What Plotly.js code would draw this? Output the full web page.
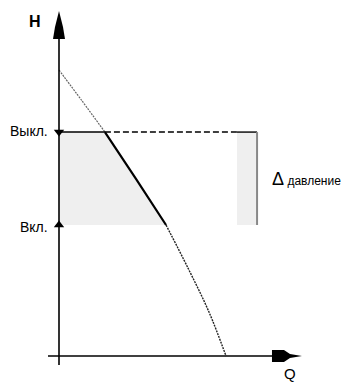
<!DOCTYPE html>
<html><head><meta charset="utf-8">
<script src="https://cdn.plot.ly/plotly-3.0.1.min.js"></script>
<style>html,body{margin:0;padding:0;background:#fff}</style>
</head><body>
<div id="chart" style="width:355px;height:382px"></div>
<script>
// Pump curve (arbitrary units)
const Q_curve = [0, 1.38, 2.75, 4.61, 6.41, 7.72, 8.98, 10.0];
const H_curve = [10.0, 8.92, 7.83, 6.19, 4.58, 3.08, 1.54, 0];
const H_off = 7.83;   // Выкл.
const H_on = 4.58;    // Вкл.
const Q_band = [10.66, 11.86]; // Δ давление band
const labels = {off: 'Выкл.', on: 'Вкл.', H: 'H', Q: 'Q', delta: 'Δ', dp: 'давление'};

// axis extents
const xRange = [-3.533, 17.725];
const yRange = [-0.909, 12.448];
const Q_tip = 14.55, H_tip = 12.06;

const upperQ = [], upperH = [], midQ = [], midH = [], lowQ = [], lowH = [];
Q_curve.forEach((q, i) => {
  const h = H_curve[i];
  if (h >= H_off) { upperQ.push(q); upperH.push(h); }
  if (h <= H_off && h >= H_on) { midQ.push(q); midH.push(h); }
  if (h <= H_on) { lowQ.push(q); lowH.push(h); }
});

const sp = {shape: 'spline', smoothing: 1};
const traces = [
  // shaded area between axis and curve, between on/off
  {x: midQ, y: midH, mode: 'lines', fill: 'tozerox',
   fillcolor: '#efefef', line: Object.assign({width: 0}, sp), hoverinfo: 'skip'},
  // band rect
  {x: [Q_band[0], Q_band[1], Q_band[1], Q_band[0]], y: [H_off, H_off, H_on, H_on], mode: 'lines', fill: 'toself',
   fillcolor: '#efefef', line: {width: 0}, hoverinfo: 'skip'},
  // curve parts
  {x: upperQ, y: upperH, mode: 'lines', line: Object.assign({color: '#666', width: 1.2, dash: '2px,1px'}, sp)},
  {x: midQ, y: midH, mode: 'lines', line: Object.assign({color: '#000', width: 2.2}, sp)},
  {x: lowQ, y: lowH, mode: 'lines', line: Object.assign({color: '#222', width: 1.4, dash: '2px,1px'}, sp)},
  // off line solid then dashed
  {x: [0, midQ[0]], y: [H_off, H_off], mode: 'lines', line: {color: '#000', width: 1.6}},
  {x: [midQ[0], Q_band[0]], y: [H_off, H_off], mode: 'lines', line: {color: '#000', width: 1.4, dash: '6px,3px'}},
  {x: [Q_band[0], Q_band[1]], y: [H_off, H_off], mode: 'lines', line: {color: '#000', width: 1.4}},
  {x: [Q_band[1], Q_band[1]], y: [H_off, H_on], mode: 'lines', line: {color: '#888', width: 2}},
  // markers on axis
  {x: [0], y: [H_off], mode: 'markers', marker: {symbol: 'triangle-down', size: 9, color: '#000'}},
  {x: [0], y: [H_on], mode: 'markers', marker: {symbol: 'triangle-up', size: 9, color: '#000'}}
];

const layout = {
  width: 355, height: 382,
  margin: {l: 0, r: 0, t: 0, b: 0},
  paper_bgcolor: '#fff', plot_bgcolor: '#fff',
  showlegend: false,
  xaxis: {range: xRange, visible: false, fixedrange: true},
  yaxis: {range: yRange, visible: false, fixedrange: true},
  shapes: [
    {type: 'line', xref: 'x', yref: 'y', x0: 0, x1: 0, y0: -0.315, y1: H_tip - 0.5, line: {color: '#000', width: 1.6}, layer: 'above'},
    {type: 'line', xref: 'x', yref: 'y', x0: -0.66, x1: Q_tip - 0.5, y0: 0, y1: 0, line: {color: '#000', width: 1.6}, layer: 'above'},
    {type: 'path', xref: 'x', yref: 'y', xsizemode: 'pixel', ysizemode: 'pixel', xanchor: 0, yanchor: H_tip,
     path: 'M0,0 L-2,-8 L-4,-16 L-6,-28 L6,-28 L4,-16 L2,-8 Z', fillcolor: '#000', line: {width: 0}, layer: 'above'},
    {type: 'path', xref: 'x', yref: 'y', xsizemode: 'pixel', ysizemode: 'pixel', xanchor: Q_tip, yanchor: 0,
     path: 'M0,0 L-12,2 L-18,6 L-30,6 L-30,-6 L-18,-6 L-12,-2 Z', fillcolor: '#000', line: {width: 0}, layer: 'above'}
  ],
  annotations: [
    {x: 0, y: H_off, xref: 'x', yref: 'y', text: labels.off, showarrow: false, xanchor: 'right', xshift: -9, yshift: 1,
     font: {family: 'Liberation Sans Narrow, Liberation Sans, sans-serif', size: 14, color: '#000'}},
    {x: 0, y: H_on, xref: 'x', yref: 'y', text: labels.on, showarrow: false, xanchor: 'right', xshift: -9, yshift: -2,
     font: {family: 'Liberation Sans Narrow, Liberation Sans, sans-serif', size: 14, color: '#000'}},
    {x: -1.437, y: 11.68, xref: 'x', yref: 'y', text: '<b>' + labels.H + '</b>', showarrow: false,
     font: {family: 'Liberation Sans, sans-serif', size: 16, color: '#000'}},
    {x: 13.83, y: -0.62, xref: 'x', yref: 'y', text: labels.Q, showarrow: false,
     font: {family: 'Liberation Sans, sans-serif', size: 15, color: '#000'}},
    {x: 12.63, y: (H_off + H_on) / 2, xref: 'x', yref: 'y', xanchor: 'left', showarrow: false, yshift: 0,
     text: '<span style="font-size:18px">' + labels.delta + '</span> <span style="font-size:12px">' + labels.dp + '</span>',
     font: {family: 'Liberation Sans Narrow, Liberation Sans, sans-serif', size: 12, color: '#000'}}
  ]
};

Plotly.newPlot('chart', traces, layout, {staticPlot: true, displayModeBar: false});
</script>
</body></html>
